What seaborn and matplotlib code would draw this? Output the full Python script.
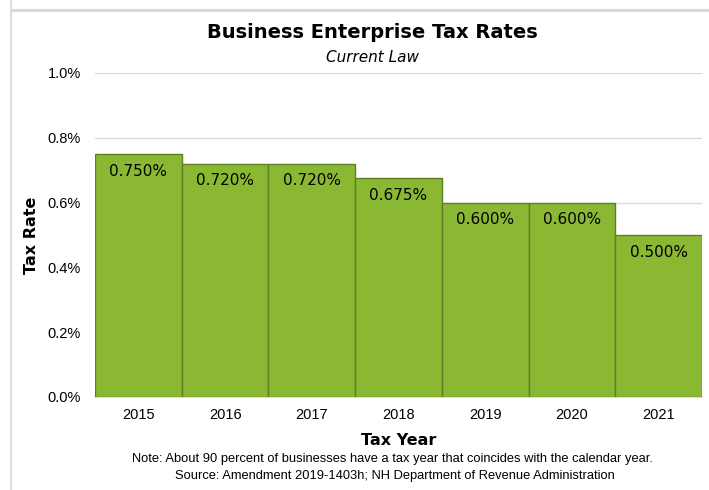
import matplotlib
matplotlib.use("Agg")
import matplotlib.pyplot as plt
from matplotlib.ticker import FuncFormatter
from matplotlib.lines import Line2D
import seaborn as sns
import pandas as pd

years = ["2015", "2016", "2017", "2018", "2019", "2020", "2021"]
rates = [0.750, 0.720, 0.720, 0.675, 0.600, 0.600, 0.500]
rate_labels = ["0.750%", "0.720%", "0.720%", "0.675%", "0.600%", "0.600%", "0.500%"]
y_ticks = [0.0, 0.2, 0.4, 0.6, 0.8, 1.0]

sns.set_theme(style="white")
plt.rcParams["font.family"] = ["DejaVu Sans"]
plt.rcParams["text.color"] = "black"
plt.rcParams["axes.labelcolor"] = "black"

df = pd.DataFrame({"year": years, "rate": rates})

fig = plt.figure(figsize=(7.09, 4.90), dpi=100)
ax = fig.add_axes([95 / 709, 1 - 397 / 490, 607 / 709, 324 / 490])

sns.barplot(data=df, x="year", y="rate", ax=ax, color="#8AB833",
            saturation=1, width=1.0, edgecolor="#5F7F22", linewidth=1.0,
            zorder=3)

ax.set_xlim(-0.5, 6.5)
ax.set_ylim(0, 1.0)
ax.set_yticks(y_ticks)
ax.yaxis.set_major_formatter(FuncFormatter(lambda v, p: f"{v:.1f}%"))
ax.yaxis.grid(True, color="#D9D9D9", linewidth=1.0, zorder=0)
ax.xaxis.grid(False)
for side in ["left", "right", "top"]:
    ax.spines[side].set_visible(False)
ax.spines["bottom"].set_color("#D9D9D9")
ax.tick_params(axis="both", length=0, labelsize=10.5, colors="black")
ax.tick_params(axis="y", pad=10)
ax.tick_params(axis="x", pad=8)
for lab in ax.get_xticklabels() + ax.get_yticklabels():
    lab.set_fontfamily("Liberation Sans")

ax.set_xlabel("Tax Year", fontsize=11.5, fontweight="bold", labelpad=8)
ax.set_ylabel("Tax Rate", fontsize=11.5, fontweight="bold", labelpad=6)

for i, (v, t) in enumerate(zip(rates, rate_labels)):
    ax.annotate(t, (i, v), xytext=(0, -7), textcoords="offset points",
                ha="center", va="top", fontsize=11, color="black", zorder=4)

fig.text(372 / 709, 1 - 33 / 490, "Business Enterprise Tax Rates",
         ha="center", va="center", fontsize=14, fontweight="bold")
fig.text(373 / 709, 1 - 57 / 490, "Current Law",
         ha="center", va="center", fontsize=11, style="italic")
fig.text(392 / 709, 1 - 459 / 490,
         "Note: About 90 percent of businesses have a tax year that coincides with the calendar year.",
         ha="center", va="center", fontsize=9.3, family="Liberation Sans")
fig.text(395 / 709, 1 - 476 / 490,
         "Source: Amendment 2019-1403h; NH Department of Revenue Administration",
         ha="center", va="center", fontsize=9.3, family="Liberation Sans")

# frame lines at the top and left edges
fig.add_artist(Line2D([11 / 709, 1], [1 - 10 / 490, 1 - 10 / 490],
                      transform=fig.transFigure, color="#D9D9D9", linewidth=2.2))
fig.add_artist(Line2D([10.5 / 709, 10.5 / 709], [0, 1],
                      transform=fig.transFigure, color="#DDDDDD", linewidth=1.5))

fig.savefig("out.png", dpi=100)
